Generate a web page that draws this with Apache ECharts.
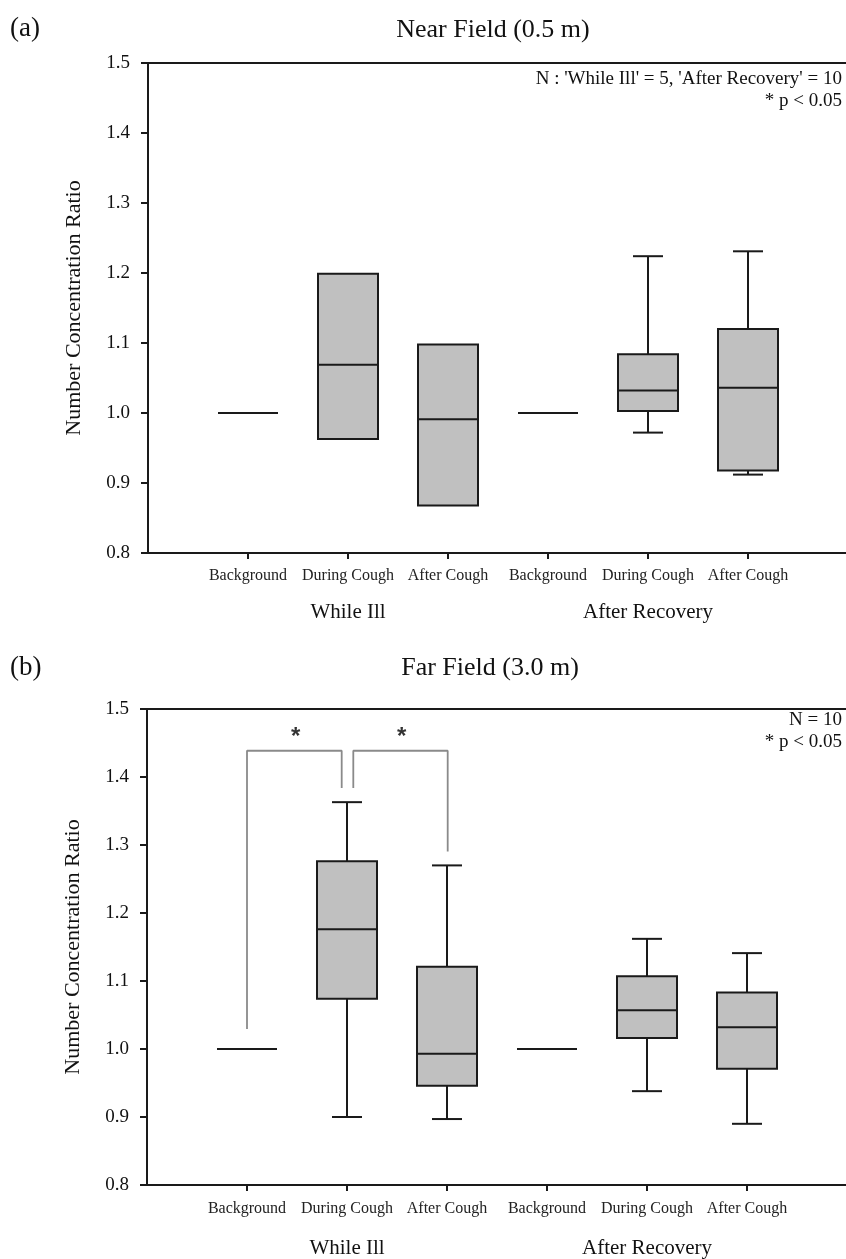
<!DOCTYPE html>
<html>
<head>
<meta charset="utf-8">
<script src="https://cdn.jsdelivr.net/npm/echarts@6/dist/echarts.min.js"></script>
<style>
  html, body { margin: 0; padding: 0; background: #fff; }
  #chart { width: 846px; height: 1259px; }
</style>
</head>
<body>
<div id="chart"></div>
<script>
const categories = ['Background', 'During Cough', 'After Cough', 'Background', 'During Cough', 'After Cough'];
const categoryPos = [1, 2, 3, 4, 5, 6];
const groups = ['While Ill', 'After Recovery'];
const groupPos = [2, 5];

// [min, Q1, median, Q3, max] per category
const nearStats = [
    [1.0, 1.0, 1.0, 1.0, 1.0],
    [0.963, 0.963, 1.069, 1.199, 1.199],
    [0.868, 0.868, 0.991, 1.098, 1.098],
    [1.0, 1.0, 1.0, 1.0, 1.0],
    [0.972, 1.003, 1.032, 1.084, 1.224],
    [0.912, 0.918, 1.036, 1.120, 1.231]
];
const farStats = [
    [1.0, 1.0, 1.0, 1.0, 1.0],
    [0.900, 1.074, 1.176, 1.276, 1.363],
    [0.897, 0.946, 0.993, 1.121, 1.270],
    [1.0, 1.0, 1.0, 1.0, 1.0],
    [0.938, 1.016, 1.057, 1.107, 1.162],
    [0.890, 0.971, 1.032, 1.083, 1.141]
];

// significance brackets (far field)
const bracketLeft = [[1, 1.0295], [1, 1.4386], [1.947, 1.4386], [1.947, 1.3837]];
const bracketRight = [[2.063, 1.384], [2.063, 1.4386], [3.007, 1.4386], [3.007, 1.2905]];
const stars = [[1.487, 1.458], [2.547, 1.458]];

const FONT = 'Liberation Serif';
const INK = '#1a1a1a';
const X_MAX = 7.04;   // plot runs a little past the right edge of the page

const chart = echarts.init(document.getElementById('chart'));

function renderBox(params, api) {
    const x = api.value(0);
    const lo = api.value(1), q1 = api.value(2), med = api.value(3), q3 = api.value(4), hi = api.value(5);
    const half = api.size([0.6, 0])[0] / 2;
    const cap = half / 2;
    const cx = api.coord([x, med])[0];
    const y = v => api.coord([x, v])[1];
    const line = { stroke: INK, lineWidth: 2 };
    const children = [];
    if (hi > q3) {
        children.push({ type: 'line', shape: { x1: cx, y1: y(q3), x2: cx, y2: y(hi) }, style: line });
        children.push({ type: 'line', shape: { x1: cx - cap, y1: y(hi), x2: cx + cap, y2: y(hi) }, style: line });
    }
    if (lo < q1) {
        children.push({ type: 'line', shape: { x1: cx, y1: y(q1), x2: cx, y2: y(lo) }, style: line });
        children.push({ type: 'line', shape: { x1: cx - cap, y1: y(lo), x2: cx + cap, y2: y(lo) }, style: line });
    }
    if (q3 > q1) {
        children.push({
            type: 'rect',
            shape: { x: cx - half, y: y(q3), width: half * 2, height: y(q1) - y(q3) },
            style: { fill: '#c0c0c0', stroke: INK, lineWidth: 2 }
        });
    }
    children.push({ type: 'line', shape: { x1: cx - half, y1: y(med), x2: cx + half, y2: y(med) }, style: line });
    return { type: 'group', children: children };
}

function boxData(stats) {
    return stats.map((s, i) => [categoryPos[i]].concat(s));
}

function catAxis(gi, margin) {
    return {
        gridIndex: gi,
        type: 'value',
        min: 0,
        max: X_MAX,
        position: 'bottom',
        axisLine: { show: true, lineStyle: { color: INK, width: 2 } },
        splitLine: { show: false },
        axisTick: { show: true, customValues: categoryPos, length: 6, lineStyle: { color: INK, width: 2 } },
        axisLabel: {
            customValues: categoryPos,
            formatter: v => categories[categoryPos.indexOf(v)] || '',
            fontFamily: FONT, fontSize: 16, color: '#222', margin: margin
        }
    };
}

function groupAxis(gi, margin) {
    return {
        gridIndex: gi,
        type: 'value',
        min: 0,
        max: X_MAX,
        position: 'bottom',
        axisLine: { show: false },
        splitLine: { show: false },
        axisTick: { show: false },
        axisLabel: {
            customValues: groupPos,
            formatter: v => groups[groupPos.indexOf(v)] || '',
            fontFamily: FONT, fontSize: 21, color: '#111', margin: margin
        }
    };
}

function valAxis(gi) {
    return {
        gridIndex: gi,
        type: 'value',
        min: 0.8,
        max: 1.5,
        interval: 0.1,
        name: 'Number Concentration Ratio',
        nameLocation: 'middle',
        nameGap: 63,
        nameTextStyle: { fontFamily: FONT, fontSize: 22, color: '#111' },
        axisLine: { show: true, lineStyle: { color: INK, width: 2 } },
        splitLine: { show: false },
        axisTick: { show: true, length: 7, lineStyle: { color: INK, width: 2 } },
        axisLabel: {
            formatter: v => v.toFixed(1),
            fontFamily: FONT, fontSize: 19, color: '#111', margin: 18
        }
    };
}

function txt(text, x, y, size, align) {
    return {
        type: 'text', x: x, y: y,
        style: { text: text, fontFamily: FONT, fontSize: size, fill: '#111', align: align, verticalAlign: 'middle' }
    };
}

const option = {
    backgroundColor: '#fff',
    animation: false,
    grid: [
        { left: 148, top: 63, width: 704, height: 490, show: true, borderColor: INK, borderWidth: 2, outerBoundsMode: 'none' },
        { left: 147, top: 709, width: 704, height: 476, show: true, borderColor: INK, borderWidth: 2, outerBoundsMode: 'none' }
    ],
    xAxis: [catAxis(0, 15), groupAxis(0, 49), catAxis(1, 16), groupAxis(1, 53)],
    yAxis: [valAxis(0), valAxis(1)],
    graphic: [
        txt('(a)', 10, 29, 27, 'left'),
        txt('Near Field (0.5 m)', 493, 30, 26, 'center'),
        txt("N : 'While Ill' = 5, 'After Recovery' = 10", 842, 79, 19, 'right'),
        txt('* p < 0.05', 842, 101, 19, 'right'),
        txt('(b)', 10, 668, 27, 'left'),
        txt('Far Field (3.0 m)', 490, 668, 26, 'center'),
        txt('N = 10', 842, 720, 19, 'right'),
        txt('* p < 0.05', 842, 742, 19, 'right')
    ],
    series: [
        {
            type: 'custom', xAxisIndex: 0, yAxisIndex: 0,
            renderItem: renderBox,
            encode: { x: 0, y: [1, 2, 3, 4, 5] },
            data: boxData(nearStats),
            silent: true
        },
        {
            type: 'custom', xAxisIndex: 2, yAxisIndex: 1,
            renderItem: renderBox,
            encode: { x: 0, y: [1, 2, 3, 4, 5] },
            data: boxData(farStats),
            silent: true
        },
        {
            type: 'line', xAxisIndex: 2, yAxisIndex: 1,
            data: bracketLeft, symbol: 'none', silent: true,
            lineStyle: { color: '#8a8a8a', width: 1.8 }
        },
        {
            type: 'line', xAxisIndex: 2, yAxisIndex: 1,
            data: bracketRight, symbol: 'none', silent: true,
            lineStyle: { color: '#8a8a8a', width: 1.8 }
        },
        {
            type: 'scatter', xAxisIndex: 2, yAxisIndex: 1,
            data: stars, symbolSize: 0, silent: true,
            label: {
                show: true, position: 'inside', formatter: '*',
                fontFamily: 'Liberation Sans', fontWeight: 'bold', fontSize: 24, color: '#000'
            }
        }
    ]
};

chart.setOption(option);
</script>
</body>
</html>
